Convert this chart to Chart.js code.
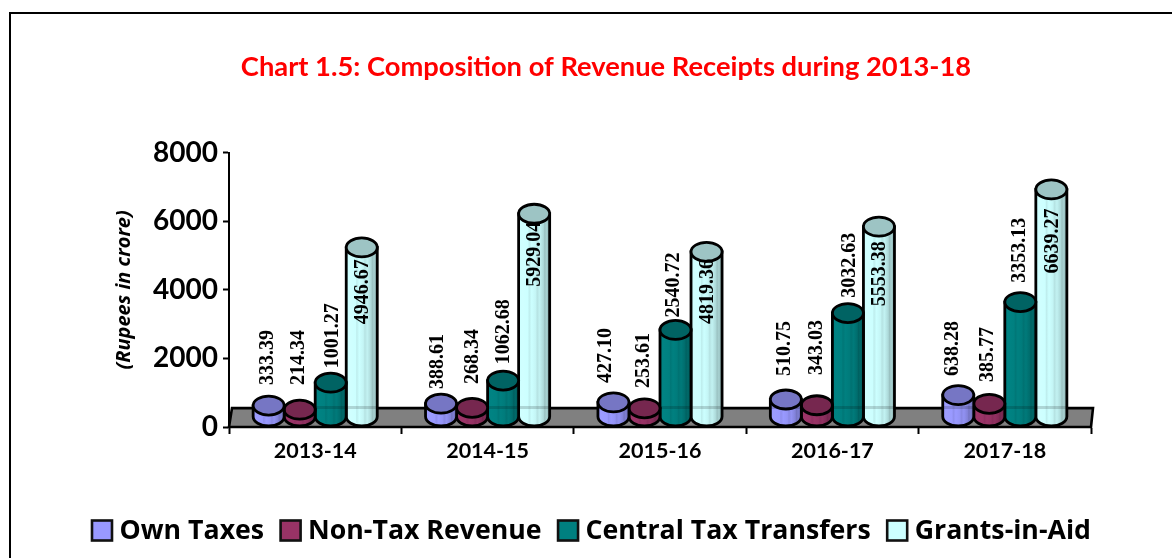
<!DOCTYPE html>
<html><head><meta charset="utf-8">
<style>html,body{margin:0;padding:0;background:#fff}#w{width:1172px;height:558px;position:relative}canvas{display:block}</style>
<script src="https://cdn.jsdelivr.net/npm/chart.js@4/dist/chart.umd.js"></script>
</head><body><div id="w"><canvas id="c" width="1172" height="558"></canvas></div>
<script>
const categories = ['2013-14','2014-15','2015-16','2016-17','2017-18'];
const ownTaxes = [333.39,388.61,427.10,510.75,638.28];
const nonTaxRevenue = [214.34,268.34,253.61,343.03,385.77];
const centralTaxTransfers = [1001.27,1062.68,2540.72,3032.63,3353.13];
const grantsInAid = [4946.67,5929.04,4819.36,5553.38,6639.27];
const ownText = ['333.39','388.61','427.10','510.75','638.28'];
const nonTaxText = ['214.34','268.34','253.61','343.03','385.77'];
const centralText = ['1001.27','1062.68','2540.72','3032.63','3353.13'];
const grantsText = ['4946.67','5929.04','4819.36','5553.38','6639.27'];
// hand-placed label nudges of the original, per series
const labelShiftX = [[-2,-4,-9,-2,-6],[-2,0,-2,-1,-2],[1,0,-3,1,-1],[0,0,0,0,0]];
const labelLift = [[20.5,14.6,19.3,23.4,19],[24.6,23.7,20.3,30.2,21.7],[14.5,16.3,12.3,15.4,19.3],[-11.7,-8,-7.3,-14.6,-19]];
const labelTexts = [ownText,nonTaxText,centralText,grantsText];
const depth = 10, ry = 9.5, LW = 2.8;
function shade(hex,f){const n=parseInt(hex.slice(1),16);const r=n>>16,g=n>>8&255,b=n&255;
  const m=v=>Math.max(0,Math.min(255,Math.round(v*f)));return `rgb(${m(r)},${m(g)},${m(b)})`;}
Chart.BarElement.prototype.draw = function(ctx){
  const c=this.options.backgroundColor, x=this.x, rx=this.width/2, top=this.y-depth, bot=this.base-depth;
  ctx.save();
  const g=ctx.createLinearGradient(x-rx,0,x+rx,0);
  [[0,1],[0.12,1.02],[0.3,1],[0.34,0.93],[0.42,1],[0.55,0.96],[0.6,0.89],[0.68,0.95],[0.8,0.85],[0.84,0.76],[0.9,0.82],[1,0.66]]
    .forEach(s=>g.addColorStop(s[0],shade(c,s[1])));
  ctx.beginPath();
  ctx.moveTo(x-rx,top);ctx.lineTo(x-rx,bot);
  ctx.ellipse(x,bot,rx,ry,0,Math.PI,0,true);
  ctx.lineTo(x+rx,top);ctx.closePath();
  ctx.fillStyle=g;ctx.fill();
  // the floor's back edge shows faintly through the cylinder
  const fy=this.base-19;
  if(top<fy){ctx.fillStyle='rgba(0,0,0,0.16)';ctx.fillRect(x-rx,fy-1.5,this.width,3);}
  ctx.lineWidth=LW;ctx.strokeStyle='#000';ctx.stroke();
  ctx.beginPath();ctx.ellipse(x,top,rx,ry,0,0,Math.PI*2);
  ctx.fillStyle=shade(c,0.77);ctx.fill();ctx.stroke();
  ctx.restore();
};
const floorPlugin={id:'floor',beforeDatasetsDraw(ch){
  const a=ch.chartArea,ctx=ch.ctx,y0=a.bottom,y1=ch.scales.y.getPixelForValue(550);
  ctx.save();ctx.beginPath();ctx.moveTo(a.left,y0);ctx.lineTo(a.left+3,y1);ctx.lineTo(a.right+2,y1);ctx.lineTo(a.right,y0);ctx.closePath();
  ctx.fillStyle='#808080';ctx.fill();ctx.lineWidth=2.6;ctx.strokeStyle='#000';ctx.stroke();ctx.restore();
}};
const framePlugin={id:'frame',beforeDraw(ch){const ctx=ch.ctx;ctx.save();ctx.fillStyle='#fff';ctx.fillRect(0,0,ch.width,ch.height);
  ctx.strokeStyle='#000';ctx.lineWidth=2;ctx.beginPath();ctx.moveTo(10,558);ctx.lineTo(10,13);ctx.lineTo(1172,13);ctx.stroke();ctx.restore();}};
const labelPlugin={id:'vals',afterDatasetsDraw(ch){const ctx=ch.ctx;
  ch.data.datasets.forEach((ds,i)=>{const m=ch.getDatasetMeta(i);
    m.data.forEach((el,j)=>{
      const lift=labelLift[i][j];
      ctx.save();ctx.translate(el.x+labelShiftX[i][j],el.y-depth);ctx.rotate(-Math.PI/2);
      ctx.font='bold 20px "Liberation Serif"';ctx.fillStyle='#000';ctx.textBaseline='middle';
      ctx.textAlign=lift<0?'right':'left';
      ctx.fillText(labelTexts[i][j],lift,1);
      ctx.restore();
    });});
}};
const legendPlugin={id:'lg',afterDraw(ch){const ctx=ch.ctx;ctx.save();
  ctx.font='bold 26.7px "Open Sans"';ctx.textBaseline='middle';
  const y=530.5,box=20,gap=7.5,sep=16.5;
  let x=92;
  ch.data.datasets.forEach(ds=>{
    ctx.fillStyle=ds.backgroundColor;ctx.lineWidth=2.6;ctx.strokeStyle='#111';
    ctx.fillRect(x,y-box/2,box,box);ctx.strokeRect(x,y-box/2,box,box);
    ctx.fillStyle='#000';ctx.textAlign='left';ctx.fillText(ds.label,x+box+gap,y+1);
    x+=box+gap+ctx.measureText(ds.label).width+sep;
  });ctx.restore();
}};
const mk=(label,data,color)=>({label,data,backgroundColor:color,borderColor:'#000',borderWidth:2,categoryPercentage:0.72,barPercentage:1});
new Chart(document.getElementById('c'),{
  type:'bar',
  data:{labels:categories,datasets:[
    mk('Own Taxes',ownTaxes,'#9999FF'),
    mk('Non-Tax Revenue',nonTaxRevenue,'#993366'),
    mk('Central Tax Transfers',centralTaxTransfers,'#008080'),
    mk('Grants-in-Aid',grantsInAid,'#CCFFFF')]},
  plugins:[framePlugin,floorPlugin,labelPlugin,legendPlugin],
  options:{responsive:false,animation:false,events:[],
    layout:{padding:{left:121,right:81,top:0,bottom:94}},
    plugins:{legend:{display:false},tooltip:{enabled:false},
      title:{display:true,text:'Chart 1.5: Composition of Revenue Receipts during 2013-18',color:'#FF0000',
        font:{family:'Lato',weight:'bold',size:27.3},padding:{top:51,bottom:69}}},
    scales:{
      x:{grid:{drawOnChartArea:false,tickLength:7,color:'#000',tickWidth:2},border:{color:'#000',width:2},
        ticks:{color:'#000',font:{family:'Lato',weight:'bold',size:21.5},maxRotation:0,padding:4},
        afterFit(s){s.height=37;}},
      y:{min:0,max:8000,grid:{drawOnChartArea:false,tickLength:6,color:'#000',tickWidth:2},border:{color:'#000',width:2},
        ticks:{stepSize:2000,color:'#000',font:{family:'Lato',weight:'bold',size:28},padding:5,callback:v=>String(v)},
        title:{display:true,text:'(Rupees in crore)',color:'#000',font:{family:'Open Sans',weight:'bold',style:'italic',size:20},padding:{top:-9,bottom:0}},
        afterFit(s){s.width=108;}}
    }}
});
</script></body></html>
